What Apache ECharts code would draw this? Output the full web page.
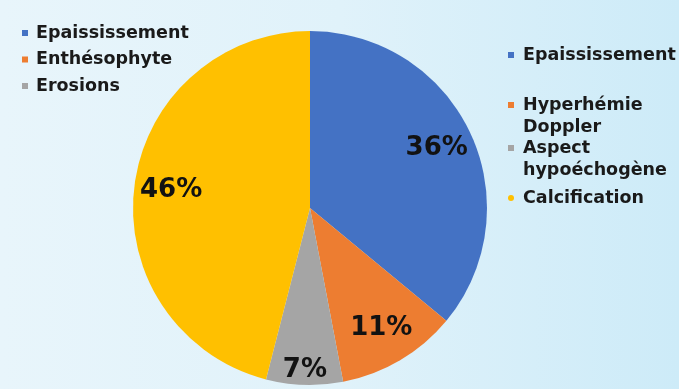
<!DOCTYPE html>
<html>
<head>
<meta charset="utf-8">
<script src="https://cdn.jsdelivr.net/npm/echarts@6/dist/echarts.min.js"></script>
<style>
  html, body { margin: 0; padding: 0; }
  #chart { width: 679px; height: 389px; }
</style>
</head>
<body>
<div id="chart"></div>
<script>
// Pie slices, clockwise from 12 o'clock
const categories = ['Epaississement', 'Hyperhémie\nDoppler', 'Aspect\nhypoéchogène', 'Calcification'];
const values = [36, 11, 7, 46];
const sliceColors = ['#4472C4', '#ED7D31', '#A5A5A5', '#FFC000'];

// Second legend block (top left)
const otherNames = ['Epaississement', 'Enthésophyte', 'Erosions'];
const otherColors = ['#4472C4', '#ED7D31', '#A5A5A5'];

// Which slice labels sit nearer the rim
const rimLabel = [false, false, true, false];

const FONT = 'DejaVu Sans';
const TEXT = '#1a1a1a';
const CENTER = [310, 208];
const R = 177;

const chart = echarts.init(document.getElementById('chart'), null, { renderer: 'canvas' });

const pieData = categories.map((n, i) => ({ name: n, value: values[i], itemStyle: { color: sliceColors[i] } }));

function labelData(showFn) {
  return categories.map((n, i) => ({
    name: n, value: values[i],
    label: { show: showFn(i) }
  }));
}

const labelStyle = {
  position: 'inside',
  formatter: '{c}%',
  fontFamily: FONT,
  fontWeight: 'bold',
  fontSize: 26,
  color: '#121212'
};

const transparentItem = { color: 'rgba(0,0,0,0)' };

// Two-line entries get an empty leading line so the icon sits beside the first line
function legendText(name) {
  return name.indexOf('\n') >= 0 ? '\n' + name : name;
}

function rightLegend(name, top, icon) {
  return {
    data: [{ name: name, icon: icon || 'rect' }],
    orient: 'vertical',
    left: 508,
    top: top,
    padding: 0,
    itemWidth: 6,
    itemHeight: 6,
    selectedMode: false,
    formatter: legendText,
    textStyle: {
      fontFamily: FONT, fontWeight: 'bold', fontSize: 17.5, color: TEXT,
      lineHeight: name.indexOf('\n') >= 0 ? 22 : 20,
      padding: [0, 0, 0, 4]
    }
  };
}

chart.setOption({
  backgroundColor: {
    type: 'linear', x: 0, y: 0, x2: 1, y2: 0,
    colorStops: [
      { offset: 0, color: '#e8f5fb' },
      { offset: 0.5, color: '#e0f2fa' },
      { offset: 1, color: '#cdebf8' }
    ]
  },
  animation: false,
  legend: [
    {
      data: otherNames.map(n => ({ name: n, icon: 'rect' })),
      orient: 'vertical',
      left: 22,
      top: 23,
      padding: 0,
      itemWidth: 6,
      itemHeight: 6,
      itemGap: 6.5,
      selectedMode: false,
      textStyle: { fontFamily: FONT, fontWeight: 'bold', fontSize: 17.5, color: TEXT, lineHeight: 20, padding: [0, 0, 0, 3] }
    },
    rightLegend(categories[0], 45),
    rightLegend(categories[1], 72),
    rightLegend(categories[2], 115),
    rightLegend(categories[3], 188, 'circle')
  ],
  series: [
    {
      name: 'slices',
      type: 'pie',
      center: CENTER,
      radius: [0, R],
      startAngle: 90,
      clockwise: true,
      silent: true,
      data: pieData,
      label: { show: false },
      labelLine: { show: false }
    },
    {
      // label ring for most slices
      name: 'labels',
      type: 'pie',
      center: CENTER,
      radius: [100, 174],
      startAngle: 90,
      clockwise: true,
      silent: true,
      itemStyle: transparentItem,
      data: labelData(i => !rimLabel[i]),
      label: labelStyle,
      labelLine: { show: false }
    },
    {
      // label ring close to the rim
      name: 'rimLabels',
      type: 'pie',
      center: CENTER,
      radius: [141, 177],
      startAngle: 90,
      clockwise: true,
      silent: true,
      itemStyle: transparentItem,
      data: labelData(i => rimLabel[i]),
      label: labelStyle,
      labelLine: { show: false }
    },
    {
      // provides colours for the top-left legend block
      name: 'otherLegend',
      type: 'pie',
      center: CENTER,
      radius: [0, 0],
      silent: true,
      stillShowZeroSum: false,
      data: otherNames.map((n, i) => ({ name: n, value: 0, itemStyle: { color: otherColors[i] } })),
      label: { show: false },
      labelLine: { show: false }
    }
  ]
});
</script>
</body>
</html>
